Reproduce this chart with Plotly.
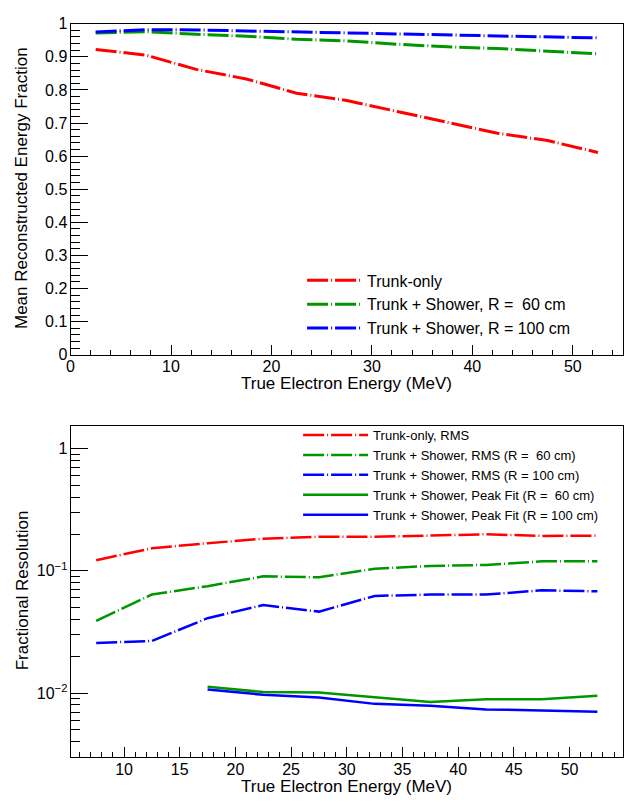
import plotly.graph_objects as go

# ---- data: mean reconstructed energy fraction vs true electron energy ----
energy_top = [2.5, 7.5, 12.5, 17.5, 22.5, 27.5, 32.5, 37.5, 42.5, 47.5, 52.5]
frac_trunk = [0.922, 0.905, 0.862, 0.833, 0.790, 0.768, 0.735, 0.701, 0.669, 0.647, 0.611]
frac_r60 = [0.972, 0.976, 0.968, 0.962, 0.953, 0.948, 0.938, 0.930, 0.925, 0.917, 0.909]
frac_r100 = [0.975, 0.982, 0.981, 0.978, 0.975, 0.972, 0.968, 0.965, 0.962, 0.960, 0.957]

# ---- data: fractional resolution vs true electron energy ----
energy_bot = [7.5, 12.5, 17.5, 22.5, 27.5, 32.5, 37.5, 42.5, 47.5, 52.5]
rms_trunk = [0.122, 0.153, 0.168, 0.183, 0.190, 0.190, 0.194, 0.199, 0.193, 0.194]
rms_r60 = [0.039, 0.064, 0.0749, 0.0901, 0.0885, 0.104, 0.1096, 0.1117, 0.1196, 0.1196]
rms_r100 = [0.0257, 0.0267, 0.041, 0.0525, 0.0464, 0.0623, 0.064, 0.064, 0.0692, 0.068]
energy_peak = [17.5, 22.5, 27.5, 32.5, 37.5, 42.5, 47.5, 52.5]
peak_r60 = [0.0113, 0.0102, 0.0101, 0.0092, 0.00848, 0.0089, 0.0089, 0.00952]
peak_r100 = [0.0107, 0.0097, 0.0092, 0.00817, 0.0079, 0.00736, 0.00722, 0.00705]

top_names = ["Trunk-only", "Trunk + Shower, R = \u00a060 cm", "Trunk + Shower, R = 100 cm"]
bot_names = ["Trunk-only, RMS",
             "Trunk + Shower, RMS (R = \u00a060 cm)",
             "Trunk + Shower, RMS (R = 100 cm)",
             "Trunk + Shower, Peak Fit (R = \u00a060 cm)",
             "Trunk + Shower, Peak Fit (R = 100 cm)"]
log_major = [0.01, 0.1, 1]
log_major_text = ["10<sup>\u22122</sup>", "10<sup>\u22121</sup>", "1"]
log_minor = [m * d for d in (0.001, 0.01, 0.1) for m in range(2, 10)]

RED, GREEN, BLUE = "#ff0000", "#009600", "#0000ff"
DASH = "21px,3px,1px,3px"
FONT = "Liberation Sans, Arial, Helvetica, sans-serif"

fig = go.Figure()

for y, name, col in zip([frac_trunk, frac_r60, frac_r100], top_names, [RED, GREEN, BLUE]):
    fig.add_trace(go.Scatter(x=energy_top, y=y, name=name, mode="lines",
                             line=dict(color=col, width=3, dash=DASH),
                             xaxis="x", yaxis="y", legend="legend"))

for y, name, col in zip([rms_trunk, rms_r60, rms_r100], bot_names[:3], [RED, GREEN, BLUE]):
    fig.add_trace(go.Scatter(x=energy_bot, y=y, name=name, mode="lines",
                             line=dict(color=col, width=2.5, dash=DASH),
                             xaxis="x2", yaxis="y2", legend="legend2"))
for y, name, col in zip([peak_r60, peak_r100], bot_names[3:], [GREEN, BLUE]):
    fig.add_trace(go.Scatter(x=energy_peak, y=y, name=name, mode="lines",
                             line=dict(color=col, width=2.5),
                             xaxis="x2", yaxis="y2", legend="legend2"))

axis_common = dict(showline=True, mirror=True, linecolor="black", linewidth=1,
                   showgrid=False, zeroline=False, ticks="inside",
                   tickcolor="black", tickfont=dict(family=FONT, size=16, color="black"))

xdom = [67 / 626, 623 / 626]
fig.update_layout(
    width=626, height=802, margin=dict(l=0, r=0, t=0, b=0),
    paper_bgcolor="white", plot_bgcolor="white",
    font=dict(family=FONT, color="black"),
    xaxis=dict(domain=xdom, range=[0, 55], dtick=10, ticklen=10, anchor="y",
               ticklabelstandoff=-3,
               minor=dict(ticks="inside", dtick=2, ticklen=5, tickcolor="black"),
               **axis_common),
    yaxis=dict(domain=[1 - 354.3 / 802, 1 - 16 / 802], range=[0, 1], dtick=0.1,
               ticklen=17, anchor="x", ticklabelstandoff=-1,
               minor=dict(ticks="inside", dtick=0.02, ticklen=9, tickcolor="black"),
               **axis_common),
    xaxis2=dict(domain=xdom, range=[5.2, 54.8], dtick=5, ticklen=10, anchor="y2",
                ticklabelstandoff=-3,
                minor=dict(ticks="inside", dtick=1, ticklen=5, tickcolor="black"),
                **axis_common),
    yaxis2=dict(domain=[1 - 765.7 / 802, 1 - 427.3 / 802], type="log",
                range=[-2.526, 0.182], tickmode="array", tickvals=log_major,
                ticktext=log_major_text, ticklen=17, anchor="x2", ticklabelstandoff=-1,
                minor=dict(ticks="inside", tickmode="array", tickvals=log_minor,
                           ticklen=9, tickcolor="black"),
                **axis_common),
    legend=dict(x=300 / 626, y=1 - 261 / 802, xanchor="left", yanchor="top",
                bgcolor="rgba(0,0,0,0)", borderwidth=0, tracegroupgap=0,
                itemwidth=55, font=dict(family=FONT, size=16, color="black")),
    legend2=dict(x=296 / 626, y=1 - 421 / 802, xanchor="left", yanchor="top",
                 bgcolor="rgba(0,0,0,0)", borderwidth=0, tracegroupgap=0,
                 itemwidth=65, font=dict(family=FONT, size=13, color="black")),
    showlegend=True,
)

title_font = dict(family=FONT, size=17, color="black")
ann = dict(xref="paper", yref="paper", showarrow=False, font=title_font,
           xanchor="center", yanchor="middle")
fig.add_annotation(text="True Electron Energy (MeV)", x=345 / 626, y=1 - 384 / 802, **ann)
fig.add_annotation(text="True Electron Energy (MeV)", x=345 / 626, y=0,
                   xref="paper", yref="paper", showarrow=False, font=title_font,
                   xanchor="center", yanchor="bottom", yshift=-4, borderpad=0)
fig.add_annotation(text="Mean Reconstructed Energy Fraction", x=17 / 626, y=1 - 184 / 802,
                   textangle=-90, **ann)
fig.add_annotation(text="Fractional Resolution", x=19 / 626, y=1 - 595 / 802,
                   textangle=-90, **ann)

fig.write_html("out.html")
